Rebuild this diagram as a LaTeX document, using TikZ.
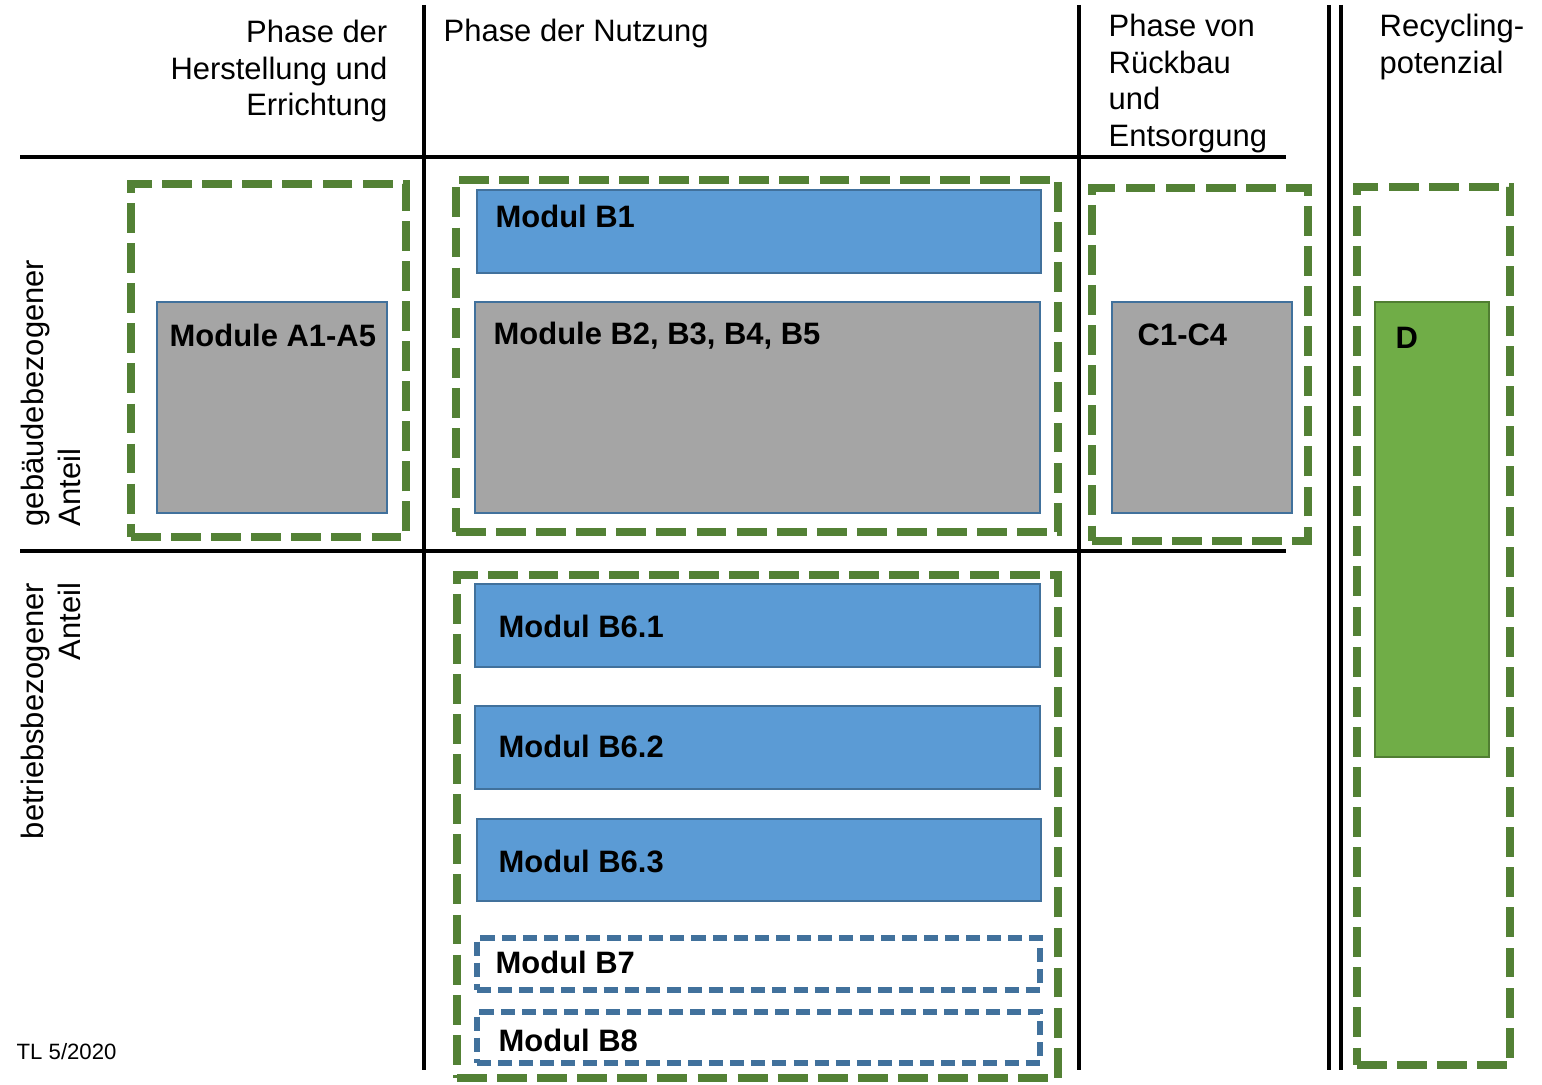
\documentclass[tikz,border=0pt]{standalone}
\usepackage{fontspec}
\setmainfont{Liberation Sans}
\usetikzlibrary{fit}
\definecolor{zonegreen}{HTML}{538135}
\definecolor{boxgrey}{HTML}{A5A5A5}
\definecolor{boxblue}{HTML}{5B9BD5}
\definecolor{edgeblue}{HTML}{41719C}
\definecolor{boxgreen}{HTML}{70AD47}
\definecolor{edgegreen}{HTML}{507E32}
\begin{document}
\begin{tikzpicture}[x=0.01cm,y=-0.01cm,
  rule/.style={line width=1.35pt, black},
  zone/.style={draw=zonegreen, line width=2.5pt, dash pattern=on 8.5pt off 2.9pt, inner sep=0pt},
  greybox/.style={draw=edgeblue, line width=0.6pt, fill=boxgrey, inner sep=0pt},
  bluebox/.style={draw=edgeblue, line width=0.6pt, fill=boxblue, inner sep=0pt},
  greenbox/.style={draw=edgegreen, line width=0.6pt, fill=boxgreen, inner sep=0pt},
  optbox/.style={draw=edgeblue, line width=1.7pt, dash pattern=on 4pt off 2pt, inner sep=0pt},
  head/.style={inner sep=0pt, font=\fontsize{8.8}{10.5}\selectfont},
  lbl/.style={inner sep=0pt, font=\bfseries\fontsize{8.8}{10.5}\selectfont, anchor=base west},
]
\useasboundingbox (0,0) rectangle (1542,1085);

% grid of phases
\draw[rule] (20,157) -- (1286,157);
\draw[rule] (20,551) -- (1286,551);
\draw[rule] (424,5) -- (424,1070);
\draw[rule] (1079,5) -- (1079,1070);
\draw[rule] (1329,5) -- (1329,1070);
\draw[rule] (1341,5) -- (1341,1070);

% column headings
\node[head, anchor=north east, align=right] (hA) at (388,19) {Phase der\\Herstellung und\\Errichtung};
\node[head, anchor=base west] (hB) at (443,42) {Phase der Nutzung};
\node[head, anchor=north west, align=left] (hC) at (1108,13) {Phase von\\Rückbau\\und\\Entsorgung};
\node[head, anchor=north west, align=left] (hD) at (1379,13) {Recycling-\\potenzial};

% row headings
\node[head, rotate=90, align=left] (rA) at (51,393) {gebäudebezogener\\Anteil};
\node[head, rotate=90, align=right] (rB) at (51,711) {betriebsbezogener\\Anteil};

% system boundaries
\node[zone, fit={(131,184) (406,537)}] (zA) {};
\node[zone, fit={(456,180) (1058,532)}] (zB) {};
\node[zone, fit={(1092,188) (1308,541)}] (zC) {};
\node[zone, fit={(1357,187) (1510,1065)}] (zD) {};
\node[zone, fit={(457,575) (1058,1078)}] (zE) {};

% modules
\node[greybox, fit={(157,302) (387,513)}] (mA) {};
\node[bluebox, fit={(477,190) (1041,273)}] (mB1) {};
\node[greybox, fit={(475,302) (1040,513)}] (mB25) {};
\node[greybox, fit={(1112,302) (1292,513)}] (mC) {};
\node[greenbox, fit={(1375,302) (1489,757)}] (mD) {};
\node[bluebox, fit={(475,584) (1040,667)}] (mB61) {};
\node[bluebox, fit={(475,706) (1040,789)}] (mB62) {};
\node[bluebox, fit={(477,819) (1041,901)}] (mB63) {};
\node[optbox, fit={(477,938) (1040,990)}] (mB7) {};
\node[optbox, fit={(477,1012) (1040,1063)}] (mB8) {};

% module labels
\node[lbl] (tA) at (169,347) {Module A1-A5};
\node[lbl] (tB1) at (495,228) {Modul B1};
\node[lbl] (tB25) at (493,344) {Module B2, B3, B4, B5};
\node[lbl] (tC) at (1137,346) {C1-C4};
\node[lbl] (tD) at (1395,349) {D};
\node[lbl] (tB61) at (498,637) {Modul B6.1};
\node[lbl] (tB62) at (498,757) {Modul B6.2};
\node[lbl] (tB63) at (498,872) {Modul B6.3};
\node[lbl] (tB7) at (495,973) {Modul B7};
\node[lbl] (tB8) at (498,1051) {Modul B8};

% source note
\node[inner sep=0pt, anchor=base west, font=\fontsize{6.3}{7.5}\selectfont] (src) at (16,1059) {TL 5/2020};
\end{tikzpicture}
\end{document}
